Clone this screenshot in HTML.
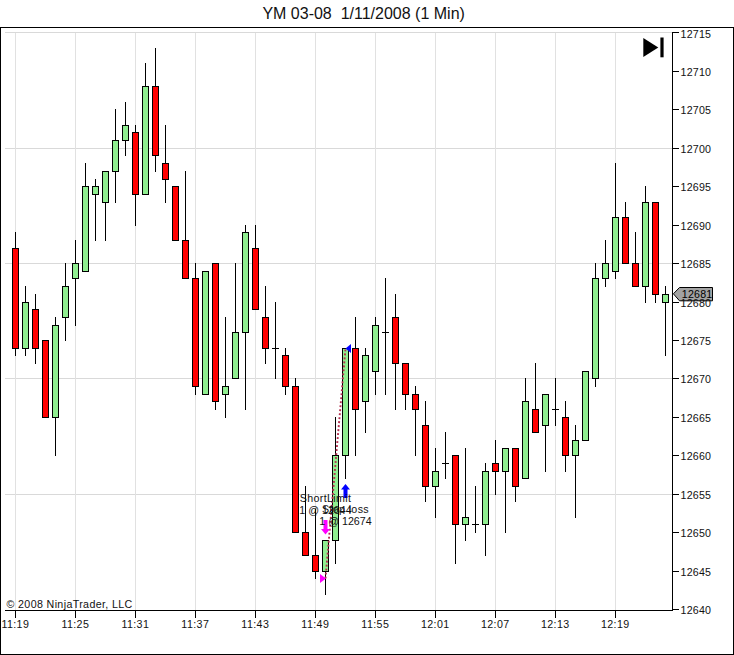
<!DOCTYPE html>
<html><head><meta charset="utf-8"><title>YM 03-08 1/11/2008 (1 Min)</title>
<style>
html,body{margin:0;padding:0;background:#fff;}
body{width:734px;height:655px;position:relative;overflow:hidden;font-family:"Liberation Sans",sans-serif;}
div{font-family:"Liberation Sans",sans-serif;}
</style></head><body>
<svg width="734" height="655" viewBox="0 0 734 655" shape-rendering="crispEdges" style="position:absolute;left:0;top:0">
<rect x="0.5" y="27.5" width="733" height="627" fill="#fff" stroke="#000" stroke-width="1"/>
<rect x="5" y="32" width="667" height="1" fill="#d9d9d9"/>
<rect x="5" y="148" width="667" height="1" fill="#d9d9d9"/>
<rect x="5" y="263" width="667" height="1" fill="#d9d9d9"/>
<rect x="5" y="378" width="667" height="1" fill="#d9d9d9"/>
<rect x="5" y="494" width="667" height="1" fill="#d9d9d9"/>
<rect x="15" y="33" width="1" height="577" fill="#e1e1e1"/>
<rect x="75" y="33" width="1" height="577" fill="#e1e1e1"/>
<rect x="135" y="33" width="1" height="577" fill="#e1e1e1"/>
<rect x="195" y="33" width="1" height="577" fill="#e1e1e1"/>
<rect x="255" y="33" width="1" height="577" fill="#e1e1e1"/>
<rect x="315" y="33" width="1" height="577" fill="#e1e1e1"/>
<rect x="375" y="33" width="1" height="577" fill="#e1e1e1"/>
<rect x="435" y="33" width="1" height="577" fill="#e1e1e1"/>
<rect x="495" y="33" width="1" height="577" fill="#e1e1e1"/>
<rect x="555" y="33" width="1" height="577" fill="#e1e1e1"/>
<rect x="615" y="33" width="1" height="577" fill="#e1e1e1"/>
<rect x="672" y="32" width="1" height="579" fill="#000"/>
<rect x="5" y="610" width="668" height="1" fill="#000"/>
<rect x="673" y="609" width="6" height="1" fill="#000"/>
<rect x="673" y="571" width="6" height="1" fill="#000"/>
<rect x="673" y="532" width="6" height="1" fill="#000"/>
<rect x="673" y="494" width="6" height="1" fill="#000"/>
<rect x="673" y="455" width="6" height="1" fill="#000"/>
<rect x="673" y="417" width="6" height="1" fill="#000"/>
<rect x="673" y="378" width="6" height="1" fill="#000"/>
<rect x="673" y="340" width="6" height="1" fill="#000"/>
<rect x="673" y="302" width="6" height="1" fill="#000"/>
<rect x="673" y="263" width="6" height="1" fill="#000"/>
<rect x="673" y="225" width="6" height="1" fill="#000"/>
<rect x="673" y="186" width="6" height="1" fill="#000"/>
<rect x="673" y="148" width="6" height="1" fill="#000"/>
<rect x="673" y="109" width="6" height="1" fill="#000"/>
<rect x="673" y="71" width="6" height="1" fill="#000"/>
<rect x="673" y="32" width="6" height="1" fill="#000"/>
<rect x="15" y="611" width="1" height="7" fill="#000"/>
<rect x="75" y="611" width="1" height="7" fill="#000"/>
<rect x="135" y="611" width="1" height="7" fill="#000"/>
<rect x="195" y="611" width="1" height="7" fill="#000"/>
<rect x="255" y="611" width="1" height="7" fill="#000"/>
<rect x="315" y="611" width="1" height="7" fill="#000"/>
<rect x="375" y="611" width="1" height="7" fill="#000"/>
<rect x="435" y="611" width="1" height="7" fill="#000"/>
<rect x="495" y="611" width="1" height="7" fill="#000"/>
<rect x="555" y="611" width="1" height="7" fill="#000"/>
<rect x="615" y="611" width="1" height="7" fill="#000"/>
<rect x="15" y="232" width="1" height="124" fill="#000"/>
<rect x="12" y="248" width="7" height="101" fill="#000"/>
<rect x="13" y="249" width="5" height="99" fill="#ff0000"/>
<rect x="25" y="286" width="1" height="70" fill="#000"/>
<rect x="22" y="302" width="7" height="47" fill="#000"/>
<rect x="23" y="303" width="5" height="45" fill="#90ee90"/>
<rect x="35" y="294" width="1" height="70" fill="#000"/>
<rect x="32" y="309" width="7" height="40" fill="#000"/>
<rect x="33" y="310" width="5" height="38" fill="#ff0000"/>
<rect x="45" y="340" width="1" height="78" fill="#000"/>
<rect x="42" y="340" width="7" height="78" fill="#000"/>
<rect x="43" y="341" width="5" height="76" fill="#ff0000"/>
<rect x="55" y="317" width="1" height="139" fill="#000"/>
<rect x="52" y="325" width="7" height="93" fill="#000"/>
<rect x="53" y="326" width="5" height="91" fill="#90ee90"/>
<rect x="65" y="263" width="1" height="78" fill="#000"/>
<rect x="62" y="286" width="7" height="32" fill="#000"/>
<rect x="63" y="287" width="5" height="30" fill="#90ee90"/>
<rect x="75" y="240" width="1" height="86" fill="#000"/>
<rect x="72" y="263" width="7" height="16" fill="#000"/>
<rect x="73" y="264" width="5" height="14" fill="#90ee90"/>
<rect x="85" y="163" width="1" height="109" fill="#000"/>
<rect x="82" y="186" width="7" height="86" fill="#000"/>
<rect x="83" y="187" width="5" height="84" fill="#90ee90"/>
<rect x="95" y="179" width="1" height="62" fill="#000"/>
<rect x="92" y="186" width="7" height="9" fill="#000"/>
<rect x="93" y="187" width="5" height="7" fill="#90ee90"/>
<rect x="105" y="171" width="1" height="70" fill="#000"/>
<rect x="102" y="171" width="7" height="32" fill="#000"/>
<rect x="103" y="172" width="5" height="30" fill="#90ee90"/>
<rect x="115" y="109" width="1" height="94" fill="#000"/>
<rect x="112" y="140" width="7" height="32" fill="#000"/>
<rect x="113" y="141" width="5" height="30" fill="#90ee90"/>
<rect x="125" y="102" width="1" height="54" fill="#000"/>
<rect x="122" y="125" width="7" height="16" fill="#000"/>
<rect x="123" y="126" width="5" height="14" fill="#90ee90"/>
<rect x="135" y="125" width="1" height="101" fill="#000"/>
<rect x="132" y="132" width="7" height="63" fill="#000"/>
<rect x="133" y="133" width="5" height="61" fill="#ff0000"/>
<rect x="145" y="63" width="1" height="132" fill="#000"/>
<rect x="142" y="86" width="7" height="109" fill="#000"/>
<rect x="143" y="87" width="5" height="107" fill="#90ee90"/>
<rect x="155" y="48" width="1" height="124" fill="#000"/>
<rect x="152" y="86" width="7" height="70" fill="#000"/>
<rect x="153" y="87" width="5" height="68" fill="#ff0000"/>
<rect x="165" y="125" width="1" height="78" fill="#000"/>
<rect x="162" y="163" width="7" height="17" fill="#000"/>
<rect x="163" y="164" width="5" height="15" fill="#ff0000"/>
<rect x="175" y="186" width="1" height="55" fill="#000"/>
<rect x="172" y="186" width="7" height="55" fill="#000"/>
<rect x="173" y="187" width="5" height="53" fill="#ff0000"/>
<rect x="185" y="171" width="1" height="108" fill="#000"/>
<rect x="182" y="240" width="7" height="39" fill="#000"/>
<rect x="183" y="241" width="5" height="37" fill="#ff0000"/>
<rect x="195" y="263" width="1" height="132" fill="#000"/>
<rect x="192" y="278" width="7" height="109" fill="#000"/>
<rect x="193" y="279" width="5" height="107" fill="#ff0000"/>
<rect x="205" y="271" width="1" height="124" fill="#000"/>
<rect x="202" y="271" width="7" height="124" fill="#000"/>
<rect x="203" y="272" width="5" height="122" fill="#90ee90"/>
<rect x="215" y="263" width="1" height="147" fill="#000"/>
<rect x="212" y="263" width="7" height="139" fill="#000"/>
<rect x="213" y="264" width="5" height="137" fill="#ff0000"/>
<rect x="225" y="317" width="1" height="101" fill="#000"/>
<rect x="222" y="386" width="7" height="9" fill="#000"/>
<rect x="223" y="387" width="5" height="7" fill="#90ee90"/>
<rect x="235" y="263" width="1" height="116" fill="#000"/>
<rect x="232" y="332" width="7" height="47" fill="#000"/>
<rect x="233" y="333" width="5" height="45" fill="#90ee90"/>
<rect x="245" y="225" width="1" height="185" fill="#000"/>
<rect x="242" y="232" width="7" height="101" fill="#000"/>
<rect x="243" y="233" width="5" height="99" fill="#90ee90"/>
<rect x="255" y="225" width="1" height="85" fill="#000"/>
<rect x="252" y="248" width="7" height="62" fill="#000"/>
<rect x="253" y="249" width="5" height="60" fill="#ff0000"/>
<rect x="265" y="286" width="1" height="78" fill="#000"/>
<rect x="262" y="317" width="7" height="32" fill="#000"/>
<rect x="263" y="318" width="5" height="30" fill="#ff0000"/>
<rect x="275" y="302" width="1" height="77" fill="#000"/>
<rect x="272" y="348" width="7" height="1" fill="#000"/>
<rect x="285" y="348" width="1" height="47" fill="#000"/>
<rect x="282" y="355" width="7" height="32" fill="#000"/>
<rect x="283" y="356" width="5" height="30" fill="#ff0000"/>
<rect x="295" y="378" width="1" height="155" fill="#000"/>
<rect x="292" y="386" width="7" height="147" fill="#000"/>
<rect x="293" y="387" width="5" height="145" fill="#ff0000"/>
<rect x="305" y="486" width="1" height="70" fill="#000"/>
<rect x="302" y="532" width="7" height="24" fill="#000"/>
<rect x="303" y="533" width="5" height="22" fill="#ff0000"/>
<rect x="315" y="509" width="1" height="70" fill="#000"/>
<rect x="312" y="555" width="7" height="17" fill="#000"/>
<rect x="313" y="556" width="5" height="15" fill="#ff0000"/>
<rect x="325" y="540" width="1" height="55" fill="#000"/>
<rect x="322" y="540" width="7" height="32" fill="#000"/>
<rect x="323" y="541" width="5" height="30" fill="#90ee90"/>
<rect x="335" y="417" width="1" height="147" fill="#000"/>
<rect x="332" y="455" width="7" height="86" fill="#000"/>
<rect x="333" y="456" width="5" height="84" fill="#90ee90"/>
<rect x="345" y="348" width="1" height="131" fill="#000"/>
<rect x="342" y="348" width="7" height="108" fill="#000"/>
<rect x="343" y="349" width="5" height="106" fill="#90ee90"/>
<rect x="355" y="317" width="1" height="139" fill="#000"/>
<rect x="352" y="348" width="7" height="62" fill="#000"/>
<rect x="353" y="349" width="5" height="60" fill="#ff0000"/>
<rect x="365" y="348" width="1" height="85" fill="#000"/>
<rect x="362" y="355" width="7" height="47" fill="#000"/>
<rect x="363" y="356" width="5" height="45" fill="#90ee90"/>
<rect x="375" y="317" width="1" height="78" fill="#000"/>
<rect x="372" y="325" width="7" height="47" fill="#000"/>
<rect x="373" y="326" width="5" height="45" fill="#90ee90"/>
<rect x="385" y="278" width="1" height="117" fill="#000"/>
<rect x="382" y="332" width="7" height="1" fill="#000"/>
<rect x="395" y="294" width="1" height="116" fill="#000"/>
<rect x="392" y="317" width="7" height="47" fill="#000"/>
<rect x="393" y="318" width="5" height="45" fill="#ff0000"/>
<rect x="405" y="363" width="1" height="47" fill="#000"/>
<rect x="402" y="363" width="7" height="32" fill="#000"/>
<rect x="403" y="364" width="5" height="30" fill="#ff0000"/>
<rect x="415" y="386" width="1" height="70" fill="#000"/>
<rect x="412" y="394" width="7" height="16" fill="#000"/>
<rect x="413" y="395" width="5" height="14" fill="#ff0000"/>
<rect x="425" y="401" width="1" height="101" fill="#000"/>
<rect x="422" y="425" width="7" height="62" fill="#000"/>
<rect x="423" y="426" width="5" height="60" fill="#ff0000"/>
<rect x="435" y="448" width="1" height="70" fill="#000"/>
<rect x="432" y="471" width="7" height="16" fill="#000"/>
<rect x="433" y="472" width="5" height="14" fill="#90ee90"/>
<rect x="445" y="432" width="1" height="47" fill="#000"/>
<rect x="442" y="463" width="7" height="1" fill="#000"/>
<rect x="455" y="455" width="1" height="109" fill="#000"/>
<rect x="452" y="455" width="7" height="70" fill="#000"/>
<rect x="453" y="456" width="5" height="68" fill="#ff0000"/>
<rect x="465" y="448" width="1" height="93" fill="#000"/>
<rect x="462" y="517" width="7" height="8" fill="#000"/>
<rect x="463" y="518" width="5" height="6" fill="#90ee90"/>
<rect x="475" y="486" width="1" height="47" fill="#000"/>
<rect x="472" y="524" width="7" height="1" fill="#000"/>
<rect x="485" y="463" width="1" height="93" fill="#000"/>
<rect x="482" y="471" width="7" height="54" fill="#000"/>
<rect x="483" y="472" width="5" height="52" fill="#90ee90"/>
<rect x="495" y="440" width="1" height="55" fill="#000"/>
<rect x="492" y="463" width="7" height="9" fill="#000"/>
<rect x="493" y="464" width="5" height="7" fill="#ff0000"/>
<rect x="505" y="448" width="1" height="85" fill="#000"/>
<rect x="502" y="448" width="7" height="24" fill="#000"/>
<rect x="503" y="449" width="5" height="22" fill="#90ee90"/>
<rect x="515" y="448" width="1" height="54" fill="#000"/>
<rect x="512" y="448" width="7" height="39" fill="#000"/>
<rect x="513" y="449" width="5" height="37" fill="#ff0000"/>
<rect x="525" y="378" width="1" height="101" fill="#000"/>
<rect x="522" y="401" width="7" height="78" fill="#000"/>
<rect x="523" y="402" width="5" height="76" fill="#90ee90"/>
<rect x="535" y="363" width="1" height="70" fill="#000"/>
<rect x="532" y="409" width="7" height="24" fill="#000"/>
<rect x="533" y="410" width="5" height="22" fill="#ff0000"/>
<rect x="545" y="394" width="1" height="78" fill="#000"/>
<rect x="542" y="394" width="7" height="32" fill="#000"/>
<rect x="543" y="395" width="5" height="30" fill="#90ee90"/>
<rect x="555" y="378" width="1" height="48" fill="#000"/>
<rect x="552" y="409" width="7" height="1" fill="#000"/>
<rect x="565" y="401" width="1" height="71" fill="#000"/>
<rect x="562" y="417" width="7" height="39" fill="#000"/>
<rect x="563" y="418" width="5" height="37" fill="#ff0000"/>
<rect x="575" y="425" width="1" height="93" fill="#000"/>
<rect x="572" y="440" width="7" height="16" fill="#000"/>
<rect x="573" y="441" width="5" height="14" fill="#90ee90"/>
<rect x="585" y="371" width="1" height="70" fill="#000"/>
<rect x="582" y="371" width="7" height="70" fill="#000"/>
<rect x="583" y="372" width="5" height="68" fill="#90ee90"/>
<rect x="595" y="263" width="1" height="124" fill="#000"/>
<rect x="592" y="278" width="7" height="101" fill="#000"/>
<rect x="593" y="279" width="5" height="99" fill="#90ee90"/>
<rect x="605" y="240" width="1" height="47" fill="#000"/>
<rect x="602" y="263" width="7" height="16" fill="#000"/>
<rect x="603" y="264" width="5" height="14" fill="#90ee90"/>
<rect x="615" y="163" width="1" height="116" fill="#000"/>
<rect x="612" y="217" width="7" height="55" fill="#000"/>
<rect x="613" y="218" width="5" height="53" fill="#90ee90"/>
<rect x="625" y="202" width="1" height="62" fill="#000"/>
<rect x="622" y="217" width="7" height="47" fill="#000"/>
<rect x="623" y="218" width="5" height="45" fill="#ff0000"/>
<rect x="635" y="232" width="1" height="55" fill="#000"/>
<rect x="632" y="263" width="7" height="24" fill="#000"/>
<rect x="633" y="264" width="5" height="22" fill="#ff0000"/>
<rect x="645" y="186" width="1" height="117" fill="#000"/>
<rect x="642" y="202" width="7" height="85" fill="#000"/>
<rect x="643" y="203" width="5" height="83" fill="#90ee90"/>
<rect x="655" y="202" width="1" height="101" fill="#000"/>
<rect x="652" y="202" width="7" height="93" fill="#000"/>
<rect x="653" y="203" width="5" height="91" fill="#ff0000"/>
<rect x="665" y="286" width="1" height="70" fill="#000"/>
<rect x="662" y="294" width="7" height="9" fill="#000"/>
<rect x="663" y="295" width="5" height="7" fill="#90ee90"/>
<line x1="325.5" y1="578.5" x2="345.5" y2="348.5" stroke="#b43050" stroke-width="1.9" stroke-dasharray="1.9 2.1" shape-rendering="auto"/>
<polygon points="320,574 326,578.5 320,583" fill="#ff00ff" shape-rendering="auto"/>
<polygon points="351,344 345.5,348.5 351,353" fill="#0000ff" shape-rendering="auto"/>
<polygon points="345.5,484 350,489.5 347.5,489.5 347.5,498 343.5,498 343.5,489.5 341,489.5" fill="#0000ff" shape-rendering="auto"/>
<polygon points="325.5,534.5 330,529 327.5,529 327.5,520 323.5,520 323.5,529 321,529" fill="#ff00ff" shape-rendering="auto"/>
<polygon points="643.3,38 643.3,57 658.3,47.5" fill="#000" shape-rendering="auto"/>
<rect x="660.4" y="37.5" width="3.2" height="19.8" fill="#000" shape-rendering="auto"/>
<polygon points="673.4,293.8 679.5,287.5 712.5,287.5 712.5,300.8 679.5,300.8" fill="#a3a3a3" stroke="#000" stroke-width="1" shape-rendering="auto"/>
</svg>
<div style="position:absolute;top:4.92px;font-size:16px;line-height:18.384px;color:#111;white-space:pre;left:262.4px;">YM 03-08  1/11/2008 (1 Min)</div>
<div style="position:absolute;top:603.84px;font-size:10.67px;line-height:12.260px;color:#111;white-space:pre;letter-spacing:0.18px;left:680.6px;">12640</div>
<div style="position:absolute;top:565.84px;font-size:10.67px;line-height:12.260px;color:#111;white-space:pre;letter-spacing:0.18px;left:680.6px;">12645</div>
<div style="position:absolute;top:526.84px;font-size:10.67px;line-height:12.260px;color:#111;white-space:pre;letter-spacing:0.18px;left:680.6px;">12650</div>
<div style="position:absolute;top:488.84px;font-size:10.67px;line-height:12.260px;color:#111;white-space:pre;letter-spacing:0.18px;left:680.6px;">12655</div>
<div style="position:absolute;top:449.84px;font-size:10.67px;line-height:12.260px;color:#111;white-space:pre;letter-spacing:0.18px;left:680.6px;">12660</div>
<div style="position:absolute;top:411.84px;font-size:10.67px;line-height:12.260px;color:#111;white-space:pre;letter-spacing:0.18px;left:680.6px;">12665</div>
<div style="position:absolute;top:372.84px;font-size:10.67px;line-height:12.260px;color:#111;white-space:pre;letter-spacing:0.18px;left:680.6px;">12670</div>
<div style="position:absolute;top:334.84px;font-size:10.67px;line-height:12.260px;color:#111;white-space:pre;letter-spacing:0.18px;left:680.6px;">12675</div>
<div style="position:absolute;top:296.84px;font-size:10.67px;line-height:12.260px;color:#111;white-space:pre;letter-spacing:0.18px;left:680.6px;">12680</div>
<div style="position:absolute;top:257.84px;font-size:10.67px;line-height:12.260px;color:#111;white-space:pre;letter-spacing:0.18px;left:680.6px;">12685</div>
<div style="position:absolute;top:219.84px;font-size:10.67px;line-height:12.260px;color:#111;white-space:pre;letter-spacing:0.18px;left:680.6px;">12690</div>
<div style="position:absolute;top:180.84px;font-size:10.67px;line-height:12.260px;color:#111;white-space:pre;letter-spacing:0.18px;left:680.6px;">12695</div>
<div style="position:absolute;top:142.84px;font-size:10.67px;line-height:12.260px;color:#111;white-space:pre;letter-spacing:0.18px;left:680.6px;">12700</div>
<div style="position:absolute;top:103.84px;font-size:10.67px;line-height:12.260px;color:#111;white-space:pre;letter-spacing:0.18px;left:680.6px;">12705</div>
<div style="position:absolute;top:65.84px;font-size:10.67px;line-height:12.260px;color:#111;white-space:pre;letter-spacing:0.18px;left:680.6px;">12710</div>
<div style="position:absolute;top:27.84px;font-size:10.67px;line-height:12.260px;color:#111;white-space:pre;letter-spacing:0.18px;left:680.6px;">12715</div>
<div style="position:absolute;top:617.84px;font-size:10.67px;line-height:12.260px;color:#111;white-space:pre;letter-spacing:0.4px;left:-134.7px;width:300px;text-align:center;">11:19</div>
<div style="position:absolute;top:617.84px;font-size:10.67px;line-height:12.260px;color:#111;white-space:pre;letter-spacing:0.4px;left:-74.7px;width:300px;text-align:center;">11:25</div>
<div style="position:absolute;top:617.84px;font-size:10.67px;line-height:12.260px;color:#111;white-space:pre;letter-spacing:0.4px;left:-14.699999999999989px;width:300px;text-align:center;">11:31</div>
<div style="position:absolute;top:617.84px;font-size:10.67px;line-height:12.260px;color:#111;white-space:pre;letter-spacing:0.4px;left:45.30000000000001px;width:300px;text-align:center;">11:37</div>
<div style="position:absolute;top:617.84px;font-size:10.67px;line-height:12.260px;color:#111;white-space:pre;letter-spacing:0.4px;left:105.30000000000001px;width:300px;text-align:center;">11:43</div>
<div style="position:absolute;top:617.84px;font-size:10.67px;line-height:12.260px;color:#111;white-space:pre;letter-spacing:0.4px;left:165.3px;width:300px;text-align:center;">11:49</div>
<div style="position:absolute;top:617.84px;font-size:10.67px;line-height:12.260px;color:#111;white-space:pre;letter-spacing:0.4px;left:225.3px;width:300px;text-align:center;">11:55</div>
<div style="position:absolute;top:617.84px;font-size:10.67px;line-height:12.260px;color:#111;white-space:pre;letter-spacing:0.4px;left:285.3px;width:300px;text-align:center;">12:01</div>
<div style="position:absolute;top:617.84px;font-size:10.67px;line-height:12.260px;color:#111;white-space:pre;letter-spacing:0.4px;left:345.3px;width:300px;text-align:center;">12:07</div>
<div style="position:absolute;top:617.84px;font-size:10.67px;line-height:12.260px;color:#111;white-space:pre;letter-spacing:0.4px;left:405.29999999999995px;width:300px;text-align:center;">12:13</div>
<div style="position:absolute;top:617.84px;font-size:10.67px;line-height:12.260px;color:#111;white-space:pre;letter-spacing:0.4px;left:465.29999999999995px;width:300px;text-align:center;">12:19</div>
<div style="position:absolute;top:598.34px;font-size:10.67px;line-height:12.260px;color:#111;white-space:pre;letter-spacing:0.37px;left:6.5px;">© 2008 NinjaTrader, LLC</div>
<div style="position:absolute;top:491.84px;font-size:10.67px;line-height:12.260px;color:#111;white-space:pre;letter-spacing:0.35px;left:175.5px;width:300px;text-align:center;">ShortLimit</div>
<div style="position:absolute;top:503.84px;font-size:10.67px;line-height:12.260px;color:#111;white-space:pre;left:175.5px;width:300px;text-align:center;">1 @ 12644</div>
<div style="position:absolute;top:503.04px;font-size:10.67px;line-height:12.260px;color:#111;white-space:pre;letter-spacing:0.35px;left:195.5px;width:300px;text-align:center;">Stop loss</div>
<div style="position:absolute;top:514.94px;font-size:10.67px;line-height:12.260px;color:#111;white-space:pre;left:195.5px;width:300px;text-align:center;">1 @ 12674</div>
<div style="position:absolute;top:287.84px;font-size:10.67px;line-height:12.260px;color:#000;white-space:pre;letter-spacing:0.2px;left:681.8px;">12681</div>
</body></html>
